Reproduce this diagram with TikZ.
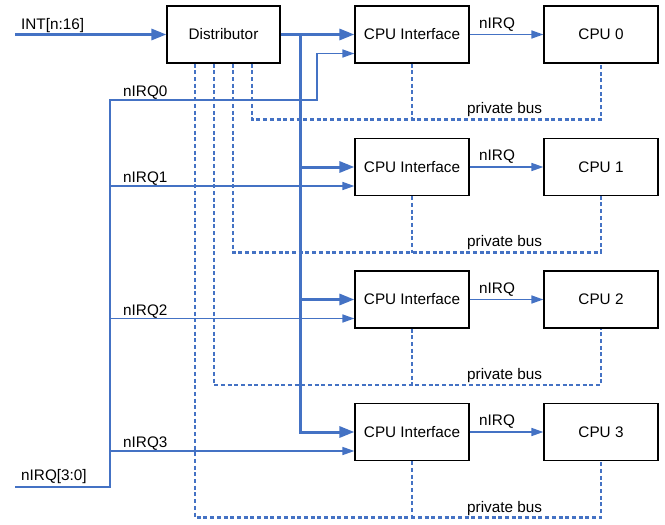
\documentclass[tikz,border=0pt]{standalone}
\usepackage{fontspec}
\setmainfont{Liberation Sans}
\usetikzlibrary{arrows.meta}
\definecolor{busblue}{HTML}{4472C4}
\tikzset{
  unit/.style={draw=black, line width=1.2pt, minimum width=114pt, minimum height=57pt, inner sep=0pt},
  lbl/.style={anchor=base west, inner sep=0pt},
  wire/.style={draw=busblue, line width=1.6pt},
  thickwire/.style={draw=busblue, line width=3pt},
  privbus/.style={draw=busblue, line width=2.6pt, dash pattern=on 4pt off 2.7pt},
  thinhead/.style={-{Triangle[length=12pt,width=8pt]}},
  thickhead/.style={-{Triangle[length=15pt,width=11pt]}}
}
\begin{document}
\begin{tikzpicture}[x=1pt, y=-1pt, font=\fontsize{15.3}{18}\selectfont]
      \useasboundingbox (0,0) rectangle (665,525);
      % units
      \node[unit, minimum width=113pt] (dist) at (223.5,34.5) {Distributor};
      \node[unit] (ifc0) at (412,34.5)  {CPU Interface};
      \node[unit] (ifc1) at (412,167)   {CPU Interface};
      \node[unit] (ifc2) at (412,299.5) {CPU Interface};
      \node[unit] (ifc3) at (412,432)   {CPU Interface};
      \node[unit] (cpu0) at (601,34.5)  {CPU 0};
      \node[unit] (cpu1) at (601,167)   {CPU 1};
      \node[unit] (cpu2) at (601,299.5) {CPU 2};
      \node[unit] (cpu3) at (601,432)   {CPU 3};
      % turning points
      \coordinate (intin) at (15,34.5);
      \coordinate (irqin) at (15,487);
      \coordinate (irqtop) at (110,100);
      \coordinate (bend0) at (317,100);
      \coordinate (tap) at (300,34.5);
      \coordinate (in0) at ([yshift=-19pt]ifc0.west);
      \coordinate (in1) at ([yshift=-19pt]ifc1.west);
      \coordinate (in2) at ([yshift=-19pt]ifc2.west);
      \coordinate (in3) at ([yshift=-19pt]ifc3.west);
      \coordinate (bus0) at (412,119.5);
      \coordinate (bus1) at (412,252.5);
      \coordinate (bus2) at (412,385);
      \coordinate (bus3) at (412,517.5);
      % private buses
      \draw[privbus] ([xshift=28.5pt]dist.south) |- (bus0) -| (cpu0.south)
                     ([xshift=9.5pt]dist.south) |- (bus1) -| (cpu1.south)
                     ([xshift=-9.5pt]dist.south) |- (bus2) -| (cpu2.south)
                     ([xshift=-28.5pt]dist.south) |- (bus3) -| (cpu3.south);
      \draw[privbus] (ifc0.south) -- (bus0)
                     (ifc1.south) -- (bus1)
                     (ifc2.south) -- (bus2)
                     (ifc3.south) -- (bus3);
      % interrupt lines
      \draw[thickwire, thickhead] (intin) -- (dist.west);
      \draw[thickwire, thickhead] (dist.east) -- (ifc0.west);
      \draw[thickwire, thickhead] (tap) |- (ifc3.west);
      \draw[thickwire, thickhead] (tap |- ifc1.west) -- (ifc1.west);
      \draw[thickwire, thickhead] (tap |- ifc2.west) -- (ifc2.west);
      \draw[wire, thinhead] (irqin) -| (irqtop) -- (bend0) |- (in0);
      \draw[wire, thinhead] (irqtop |- in1) -- (in1);
      \draw[wire, thinhead] (irqtop |- in2) -- (in2);
      \draw[wire, thinhead] (irqtop |- in3) -- (in3);
      \draw[wire, thinhead] (ifc0) -- (cpu0);
      \draw[wire, thinhead] (ifc1) -- (cpu1);
      \draw[wire, thinhead] (ifc2) -- (cpu2);
      \draw[wire, thinhead] (ifc3) -- (cpu3);
      % labels
      \node[lbl] (intlbl) at (21,29) {INT[n:16]};
      \node[lbl] (irqlbl) at (21,480) {nIRQ[3:0]};
      \node[lbl] (lbl0) at (123,96)  {nIRQ0};
      \node[lbl] (lbl1) at (123,182) {nIRQ1};
      \node[lbl] (lbl2) at (123,315) {nIRQ2};
      \node[lbl] (lbl3) at (123,447) {nIRQ3};
      \node[lbl] (irq0) at (479,28)    {nIRQ};
      \node[lbl] (irq1) at (479,160.5) {nIRQ};
      \node[lbl] (irq2) at (479,293)   {nIRQ};
      \node[lbl] (irq3) at (479,425.5) {nIRQ};
      \node[lbl] (pb0) at (467,113)   {private bus};
      \node[lbl] (pb1) at (467,246.5) {private bus};
      \node[lbl] (pb2) at (467,379)   {private bus};
      \node[lbl] (pb3) at (467,512)   {private bus};
\end{tikzpicture}
\end{document}
